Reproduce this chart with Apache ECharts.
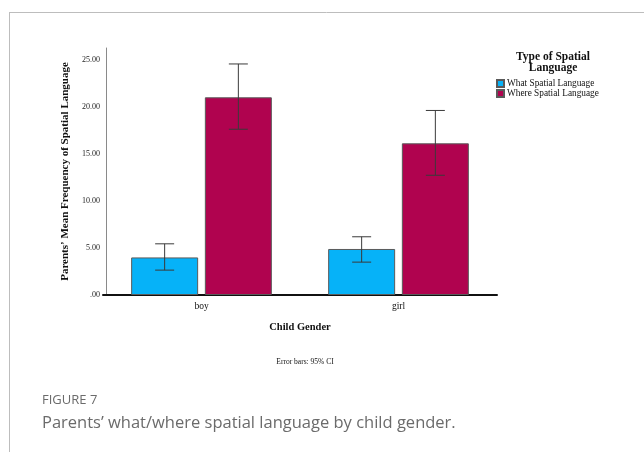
<!DOCTYPE html>
<html>
<head>
<meta charset="utf-8">
<script src="https://cdn.jsdelivr.net/npm/echarts@6/dist/echarts.min.js"></script>
<style>
  html, body { margin: 0; padding: 0; background: #fff; }
  #chart { width: 644px; height: 452px; }
</style>
</head>
<body>
<div id="chart"></div>
<script>
// data
const genders = ['boy', 'girl']
const whatMean = [4.0, 4.9]
const whereMean = [21.05, 16.15]
// 95% CI  [low, high]
const whatCI = [[2.65, 5.45], [3.5, 6.2]]
const whereCI = [[17.65, 24.6], [12.75, 19.65]]

const serif = '"Liberation Serif", "DejaVu Serif", serif'
const sans = '"Open Sans", "Noto Sans", sans-serif'
const barW = 67
const gapPct = 10 // barGap in %

// error bar series, shifted to sit on top of its bar
function errorSeries (name, ci, side) {
  return {
    name: name + ' CI',
    type: 'custom',
    z: 5,
    data: ci.map((d, i) => [i, d[0], d[1]]),
    renderItem (params, api) {
      const shift = side * (barW + barW * gapPct / 100) / 2
      const lo = api.coord([api.value(0), api.value(1)])
      const hi = api.coord([api.value(0), api.value(2)])
      const x = lo[0] + shift
      const cap = 9.5
      const style = { stroke: '#3a3a3a', lineWidth: 1 }
      return {
        type: 'group',
        children: [
          { type: 'line', shape: { x1: x, y1: hi[1], x2: x, y2: lo[1] }, style },
          { type: 'line', shape: { x1: x - cap, y1: hi[1], x2: x + cap, y2: hi[1] }, style },
          { type: 'line', shape: { x1: x - cap, y1: lo[1], x2: x + cap, y2: lo[1] }, style }
        ]
      }
    }
  }
}

const chart = echarts.init(document.getElementById('chart'), null, { renderer: 'canvas' })
chart.setOption({
  animation: false,
  backgroundColor: '#fff',
  graphic: [
    // figure frame (left + top rules)
    { type: 'line', shape: { x1: 9.5, y1: 12, x2: 9.5, y2: 452 }, style: { stroke: '#bdbdbd', lineWidth: 1 } },
    { type: 'line', shape: { x1: 9, y1: 12.5, x2: 644, y2: 12.5 }, style: { stroke: '#bdbdbd', lineWidth: 1 } }
  ],
  title: [
    {
      text: 'Type of Spatial\nLanguage',
      left: 548, top: 46, textAlign: 'center',
      textStyle: { fontFamily: serif, fontSize: 11.5, fontWeight: 'bold', color: '#111', lineHeight: 11.5 }
    },
    {
      text: 'Error bars: 95% CI',
      left: 300, top: 353, textAlign: 'center',
      textStyle: { fontFamily: serif, fontSize: 7.5, fontWeight: 'normal', color: '#111' }
    },
    {
      text: 'FIGURE 7',
      left: 37, top: 389,
      textStyle: { fontFamily: sans, fontSize: 13, fontWeight: 'normal', color: '#6b6b6b' }
    },
    {
      text: 'Parents\u2019 what/where spatial language by child gender.',
      left: 37, top: 410,
      textStyle: { fontFamily: sans, fontSize: 16.5, fontWeight: 'normal', color: '#6b6b6b' }
    }
  ],
  legend: {
    orient: 'vertical',
    left: 491, top: 74,
    itemWidth: 7, itemHeight: 7, itemGap: 1,
    icon: 'rect',
    data: ['What Spatial Language', 'Where Spatial Language'],
    textStyle: { fontFamily: serif, fontSize: 9.3, color: '#111', padding: [0, 0, 0, -2] }
  },
  grid: { left: 103, top: 48, width: 394, height: 247 },
  xAxis: {
    type: 'category',
    data: genders,
    name: 'Child Gender',
    nameLocation: 'middle',
    nameGap: 27,
    nameTextStyle: { fontFamily: serif, fontSize: 10.5, fontWeight: 'bold', color: '#111' },
    axisLine: { lineStyle: { color: '#111', width: 2 } },
    axisTick: { show: false },
    axisLabel: { fontFamily: serif, fontSize: 9.5, color: '#111', margin: 6 }
  },
  yAxis: {
    type: 'value',
    min: 0,
    max: 26.3,
    interval: 5,
    offset: -3,
    name: 'Parents\u2019 Mean Frequency of Spatial Language',
    nameLocation: 'middle',
    nameGap: 34,
    nameTextStyle: { fontFamily: serif, fontSize: 11, fontWeight: 'bold', color: '#111' },
    axisLine: { show: true, lineStyle: { color: '#8a8a8a', width: 1 } },
    axisTick: { show: false },
    splitLine: { show: false },
    axisLabel: {
      showMaxLabel: false,
      fontFamily: serif, fontSize: 8, color: '#222', margin: 6,
      formatter: v => v === 0 ? '.00' : v.toFixed(2)
    }
  },
  series: [
    {
      name: 'What Spatial Language',
      type: 'bar',
      barWidth: barW,
      barGap: gapPct + '%',
      itemStyle: { color: '#06b2f8', borderColor: '#5a5a5a', borderWidth: 1 },
      data: whatMean
    },
    {
      name: 'Where Spatial Language',
      type: 'bar',
      barWidth: barW,
      barGap: gapPct + '%',
      itemStyle: { color: '#b0034f', borderColor: '#5a5a5a', borderWidth: 1 },
      data: whereMean
    },
    errorSeries('What Spatial Language', whatCI, -1),
    errorSeries('Where Spatial Language', whereCI, 1)
  ]
})
</script>
</body>
</html>
